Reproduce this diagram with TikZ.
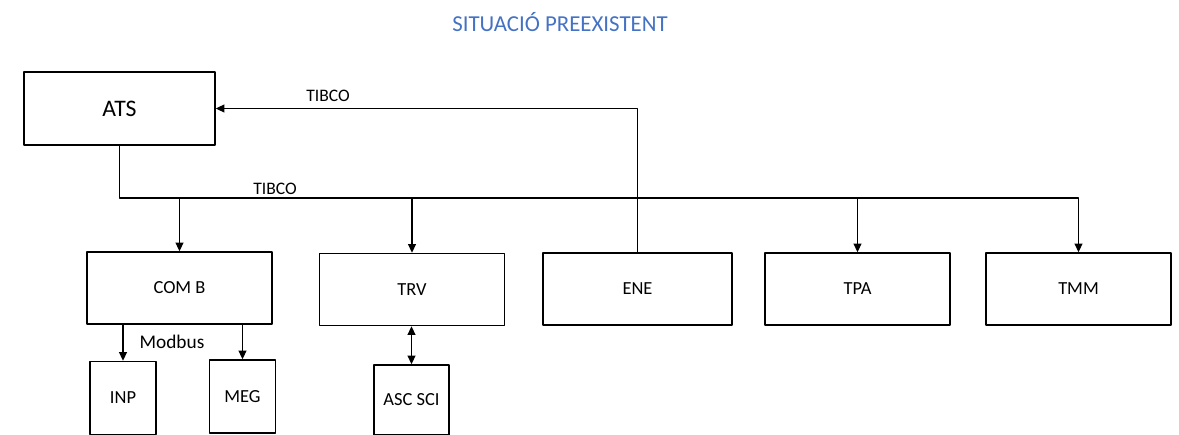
\documentclass[tikz,border=0pt]{standalone}
\usepackage{fontspec}
\setmainfont{Carlito}
\usetikzlibrary{arrows.meta}

\definecolor{titleblue}{HTML}{4472C4}

\tikzset{
  block/.style={draw, line width=0.8pt, minimum width=3.7cm, minimum height=1.44cm,
    inner sep=0pt, font=\fontsize{10.5}{12}\selectfont},
  small/.style={block, minimum width=1.32cm, minimum height=1.46cm},
  arr/.style={line width=0.8pt, -{Triangle[width=4.5pt,length=5pt]}},
  dblarr/.style={line width=0.8pt, {Triangle[width=4.5pt,length=5pt]}-{Triangle[width=4.5pt,length=5pt]}},
  lbl/.style={font=\fontsize{10}{12}\selectfont, inner sep=1pt}
}

\begin{document}
\begin{tikzpicture}[x=0.02cm, y=-0.02cm, line cap=round, line join=round]
\useasboundingbox (0,0) rectangle (1179,435);

% Title
\node[text=titleblue, font=\fontsize{13}{15}\selectfont] (title) at (560,22) {SITUACIÓ PREEXISTENT};

% Main system
\node[block, minimum width=3.82cm, minimum height=1.46cm, font=\fontsize{13.5}{15}\selectfont] (ats) at (119.5,108.5) {ATS};

% Subsystems on the bus
\node[block] (comb) at (179.5,288) {COM B};
\node[block] (trv) at (412,289.5) {TRV};
\node[block, minimum width=3.78cm] (ene) at (637.5,289) {ENE};
\node[block] (tpa) at (857.5,289) {TPA};
\node[block] (tmm) at (1078.5,289) {TMM};

% Field devices
\node[small] (inp) at (123,398) {INP};
\node[small] (meg) at (242.5,396.5) {MEG};
\node[small, minimum width=1.5cm, minimum height=1.4cm] (asc) at (411.5,400) {ASC SCI};

% TIBCO bus
\coordinate (bus) at (0,198);
\draw[arr] (ats.south) |- (bus -| tmm.north) -- (tmm.north);
\foreach \n in {comb,trv,tpa}
  \draw[arr] (bus -| \n.north) -- (\n.north);
\node[lbl] (tibcobus) at (275,189) {TIBCO};

% ENE back to ATS
\draw[arr] (ene.north) |- (ats.east);
\node[lbl] (tibcoene) at (328,96) {TIBCO};

% Modbus links
\draw[arr] (comb.south -| inp.north) -- (inp.north);
\draw[arr] (comb.south -| meg.north) -- (meg.north);
\node[lbl, font=\fontsize{11}{13}\selectfont] (modbus) at (172,342) {Modbus};

% TRV to ASC SCI
\draw[dblarr] (trv.south -| asc.north) -- (asc.north);

\end{tikzpicture}
\end{document}
